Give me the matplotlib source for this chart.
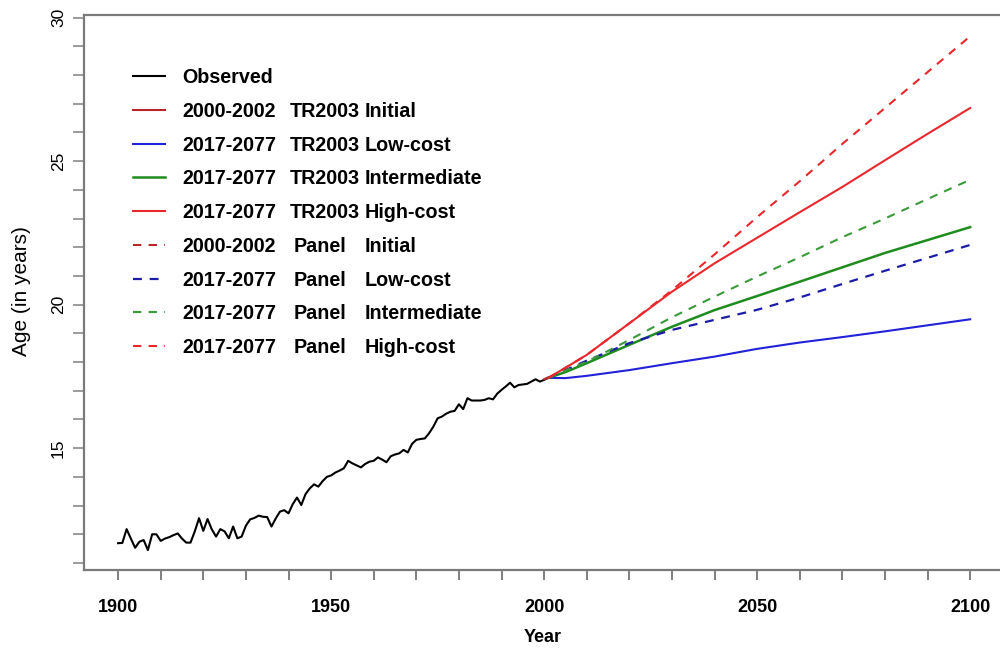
import matplotlib
matplotlib.use('Agg')
import matplotlib.pyplot as plt

plt.rcParams['font.family'] = ['Liberation Sans', 'DejaVu Sans']

# ---------------- data ----------------
obs_years = list(range(1900, 2002))
obs_age = [
    11.69, 11.70, 12.18, 11.85, 11.53, 11.74, 11.80, 11.45, 12.00, 12.00,   # 1900s
    11.77, 11.85, 11.90, 11.97, 12.03, 11.85, 11.71, 11.71, 12.10, 12.56,   # 1910s
    12.12, 12.53, 12.17, 11.92, 12.18, 12.10, 11.86, 12.27, 11.86, 11.92,   # 1920s
    12.30, 12.52, 12.57, 12.65, 12.61, 12.60, 12.27, 12.55, 12.79, 12.84,   # 1930s
    12.73, 13.05, 13.28, 13.02, 13.40, 13.60, 13.74, 13.66, 13.85, 14.00,   # 1940s
    14.05, 14.15, 14.22, 14.30, 14.56, 14.47, 14.40, 14.33, 14.45, 14.53,   # 1950s
    14.56, 14.68, 14.60, 14.51, 14.72, 14.78, 14.82, 14.94, 14.85, 15.15,   # 1960s
    15.29, 15.32, 15.34, 15.52, 15.75, 16.04, 16.10, 16.20, 16.27, 16.30,   # 1970s
    16.53, 16.36, 16.74, 16.66, 16.66, 16.66, 16.68, 16.74, 16.70, 16.90,   # 1980s
    17.03, 17.15, 17.28, 17.12, 17.20, 17.22, 17.24, 17.32, 17.40, 17.32,   # 1990s
    17.38, 17.45,                                                           # 2000-2001
]

init_years = [2000, 2002]
tr_initial = [17.40, 17.52]
panel_initial = [17.40, 17.52]

proj_years = [2001, 2005, 2010, 2020, 2030, 2040, 2050, 2060, 2070, 2080, 2090, 2100]
tr_low = [17.45, 17.44, 17.52, 17.72, 17.96, 18.19, 18.46, 18.68, 18.87, 19.07, 19.28, 19.49]
tr_int = [17.45, 17.65, 17.96, 18.60, 19.23, 19.81, 20.30, 20.80, 21.30, 21.80, 22.25, 22.70]
tr_high = [17.45, 17.80, 18.25, 19.35, 20.45, 21.44, 22.33, 23.22, 24.10, 25.03, 25.95, 26.85]
panel_low = [17.45, 17.72, 18.05, 18.66, 19.12, 19.47, 19.82, 20.25, 20.72, 21.18, 21.63, 22.08]
panel_int = [17.45, 17.70, 18.01, 18.77, 19.56, 20.28, 20.98, 21.65, 22.35, 23.00, 23.68, 24.35]
panel_high = [17.45, 17.80, 18.25, 19.35, 20.50, 21.75, 23.05, 24.30, 25.60, 26.85, 28.10, 29.35]

xticks = list(range(1900, 2101, 10))
xlabels = [str(v) if v % 50 == 0 else '' for v in xticks]
yticks = list(range(11, 31))
ylabels = [str(v) if v % 5 == 0 else '' for v in yticks]

legend_col1 = ['Observed', '2000-2002', '2017-2077', '2017-2077', '2017-2077',
               '2000-2002', '2017-2077', '2017-2077', '2017-2077']
legend_col2 = ['', 'TR2003', 'TR2003', 'TR2003', 'TR2003',
               'Panel', 'Panel', 'Panel', 'Panel']
legend_col3 = ['', 'Initial', 'Low-cost', 'Intermediate', 'High-cost',
               'Initial', 'Low-cost', 'Intermediate', 'High-cost']

# ---------------- figure ----------------
W, H = 1000, 654
fig = plt.figure(figsize=(W / 100, H / 100), dpi=100)
ax = fig.add_axes([84 / W, 1 - 570 / H, 1 - 84 / W, (570 - 15) / H])
ax.set_xlim(1892.0, 2107.0)
ax.set_ylim(10.756, 30.09)

RED = '#e8282c'
DRED = '#b8262a'
BLUE = '#2222d8'
DBLUE = '#1c1ca8'
GREEN = '#1e8c1e'
LGREEN = '#3a9a3a'
DASH = (0, (4, 3.5))

l_obs, = ax.plot(obs_years, obs_age, color='black', lw=1.5)
l_tri, = ax.plot(init_years, tr_initial, color=DRED, lw=1.5)
l_pi, = ax.plot(init_years, panel_initial, color=DRED, lw=1.5, linestyle=DASH)
l_tl, = ax.plot(proj_years, tr_low, color=BLUE, lw=1.5)
l_ti, = ax.plot(proj_years, tr_int, color=GREEN, lw=1.8)
l_pl, = ax.plot(proj_years, panel_low, color=DBLUE, lw=1.6, linestyle=DASH)
l_pin, = ax.plot(proj_years, panel_int, color=LGREEN, lw=1.5, linestyle=DASH)
l_ph, = ax.plot(proj_years, panel_high, color=RED, lw=1.5, linestyle=DASH)
l_th, = ax.plot(proj_years, tr_high, color=RED, lw=1.5)

# axes styling (R-like)
for s in ['left', 'top', 'bottom']:
    ax.spines[s].set_color('#7a7a7a')
    ax.spines[s].set_linewidth(1.6)
ax.spines['right'].set_visible(False)

ax.set_xticks(xticks)
ax.set_xticklabels(xlabels, fontweight='bold', fontsize=13)
ax.set_yticks(yticks)
ax.set_yticklabels(ylabels, fontsize=12.5, rotation=90, va='center')
ax.tick_params(axis='x', direction='out', length=7, width=1.2, color='#6a6a6a', pad=14)
ax.tick_params(axis='y', direction='out', length=8, width=1.2, color='#8a8a8a', pad=5)

fig.text(22 / W, 1 - 291 / H, 'Age (in years)', rotation=90, ha='center', va='center',
         fontsize=15)
fig.text(543 / W, 1 - 637 / H, 'Year', ha='center', va='center',
         fontsize=13, fontweight='bold')

# legend
handles = [l_obs, l_tri, l_tl, l_ti, l_th, l_pi, l_pl, l_pin, l_ph]
FS = 14.2
leg = ax.legend(handles, legend_col1, loc='upper left',
                bbox_to_anchor=(133 / W, 1 - 68 / H), bbox_transform=fig.transFigure,
                frameon=False, prop={'weight': 'bold', 'size': FS},
                handlelength=1.62, handletextpad=0.86, borderpad=0, borderaxespad=0,
                labelspacing=0.748)

fig.canvas.draw()
renderer = fig.canvas.get_renderer()
for t, c2, c3 in zip(leg.get_texts(), legend_col2, legend_col3):
    bb = t.get_window_extent(renderer)
    yc = (bb.y0 + bb.y1) / 2.0
    if c2:
        x2 = 290 if c2 == 'TR2003' else 294
        fig.text(x2 / W, yc / H, c2, ha='left', va='center', fontsize=FS, fontweight='bold')
    if c3:
        fig.text(365 / W, yc / H, c3, ha='left', va='center', fontsize=FS, fontweight='bold')

fig.savefig('out.png', dpi=100)
